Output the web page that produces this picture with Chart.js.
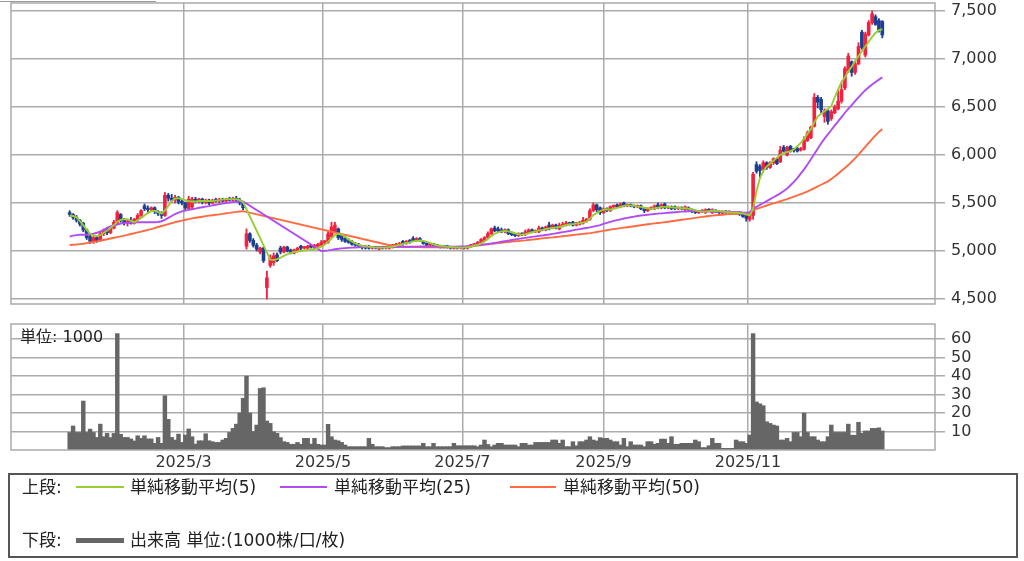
<!DOCTYPE html>
<html><head><meta charset="utf-8">
<script src="https://cdn.jsdelivr.net/npm/chart.js@4/dist/chart.umd.min.js"></script>
<style>
html,body{margin:0;padding:0;background:#fff;}
body{width:1024px;height:561px;overflow:hidden;position:relative;font-family:"DejaVu Sans","Noto Sans CJK JP",sans-serif;color:#222;}
canvas{position:absolute;left:0;}
#pc{top:0;}
#vc{top:310px;}
.t{position:absolute;font-size:16px;line-height:20px;white-space:nowrap;}
.lg{font-size:17px;}
.ln{position:absolute;}
#legend{position:absolute;left:8px;top:473px;width:1006px;height:81px;border:2px solid #555;}
#tab{position:absolute;left:0;top:1px;width:156px;height:0;border-top:1px solid #999;}
</style></head>
<body>
<div id="tab"></div>
<canvas id="pc" width="1024" height="310"></canvas>
<canvas id="vc" width="1024" height="165"></canvas>
<div class="t" style="left:20px;top:327px;">単位: 1000</div>
<div id="legend"></div>
<div class="t lg" style="left:22px;top:477px;">上段:</div>
<div class="ln" style="left:76px;top:486px;width:48px;height:2px;background:#9acd32;"></div>
<div class="t lg" style="left:130px;top:477px;">単純移動平均(5)</div>
<div class="ln" style="left:280px;top:486px;width:47px;height:2px;background:#b04cf5;"></div>
<div class="t lg" style="left:334px;top:477px;">単純移動平均(25)</div>
<div class="ln" style="left:510px;top:486px;width:46px;height:2px;background:#ff6a40;"></div>
<div class="t lg" style="left:563px;top:477px;">単純移動平均(50)</div>
<div class="t lg" style="left:22px;top:530px;">下段:</div>
<div class="ln" style="left:76px;top:538px;width:48px;height:5px;background:#666;"></div>
<div class="t lg" style="left:130px;top:530px;">出来高 単位:(1000株/口/枚)</div>
<script>
// ---- data (index = trading day, 0 = first session shown) ----
const monthTickPos = [33.5, 74.5, 115.5, 157, 199.5];
const monthLabels = ['2025/3','2025/5','2025/7','2025/9','2025/11'];
const priceTicks = [4500,5000,5500,6000,6500,7000,7500];
const volumeTicks = [10,20,30,40,50,60];

const opens = [
5400,5380,5350,5320,5290,5220,5150,5100,5140,5110,
5180,5220,5190,5240,5290,5380,5320,5290,5310,5290,
5330,5370,5470,5440,5430,5450,5410,5390,5370,5580,
5550,5530,5560,5510,5500,5440,5460,5540,5520,5540,
5510,5530,5500,5530,5520,5540,5520,5540,5530,5550,
5530,5500,5050,5180,5110,5060,4990,5030,4620,4850,
4880,4960,5030,4990,5040,5010,4980,5000,5050,5030,
5030,5060,5030,5050,5060,5090,5090,5150,5200,5230,
5160,5130,5110,5100,5070,5060,5050,5040,5050,5030,
5040,5020,5040,5030,5030,5050,5050,5060,5100,5080,
5110,5130,5110,5130,5100,5080,5060,5070,5060,5050,
5040,5050,5040,5030,5040,5030,5040,5030,5050,5060,
5070,5090,5110,5140,5180,5240,5230,5220,5200,5220,
5190,5170,5160,5180,5170,5190,5220,5200,5200,5240,
5220,5270,5240,5270,5230,5260,5270,5290,5300,5270,
5280,5290,5310,5330,5420,5480,5450,5400,5440,5420,
5460,5480,5460,5500,5470,5480,5470,5460,5470,5440,
5420,5440,5440,5480,5450,5490,5450,5460,5460,5440,
5450,5430,5450,5430,5420,5400,5410,5400,5430,5400,
5420,5410,5390,5410,5400,5400,5390,5400,5390,5380,
5330,5370,5900,5880,5850,5920,5870,5920,5960,5930,
6080,6000,6090,6060,6070,6050,6060,6150,6180,6300,
6600,6580,6400,6460,6380,6440,6480,6560,6700,6880,
6970,6860,6950,7280,7040,7250,7380,7440,7400,7390];

const highs = [
5420,5390,5370,5330,5300,5230,5170,5160,5150,5200,
5230,5240,5260,5320,5420,5390,5340,5330,5350,5340,
5390,5430,5490,5470,5460,5460,5420,5410,5610,5600,
5590,5580,5570,5540,5510,5570,5560,5560,5550,5550,
5540,5540,5540,5550,5550,5550,5550,5560,5560,5570,
5550,5510,5230,5190,5130,5080,5040,5040,4790,4960,
4980,4980,5050,5050,5050,5020,5020,5040,5060,5050,
5060,5070,5070,5080,5110,5110,5200,5300,5300,5240,
5170,5140,5130,5110,5090,5080,5060,5060,5060,5050,
5050,5050,5050,5050,5060,5070,5080,5090,5110,5110,
5120,5150,5140,5140,5110,5090,5080,5080,5070,5060,
5060,5060,5050,5050,5050,5050,5050,5060,5070,5080,
5100,5130,5150,5200,5240,5260,5250,5240,5230,5230,
5200,5180,5190,5190,5220,5230,5230,5220,5260,5250,
5260,5300,5280,5280,5290,5300,5310,5300,5310,5300,
5310,5350,5340,5440,5500,5490,5460,5450,5450,5470,
5480,5490,5500,5510,5490,5490,5480,5480,5480,5450,
5450,5460,5480,5500,5490,5500,5470,5470,5470,5460,
5460,5470,5460,5440,5430,5420,5430,5440,5440,5440,
5430,5420,5420,5420,5420,5410,5410,5410,5400,5400,
5400,5820,5930,5900,5940,5930,5930,5970,5970,6090,
6100,6090,6100,6070,6080,6080,6190,6250,6300,6640,
6620,6600,6480,6470,6470,6520,6680,6750,6920,7060,
6980,6970,7170,7300,7280,7400,7500,7460,7420,7400];

const lows = [
5360,5330,5300,5260,5200,5120,5080,5080,5090,5100,
5160,5170,5180,5230,5280,5300,5270,5260,5280,5280,
5320,5360,5420,5400,5410,5390,5370,5340,5360,5520,
5510,5500,5490,5480,5430,5440,5440,5500,5500,5490,
5490,5480,5490,5510,5500,5510,5510,5520,5520,5520,
5480,5430,5020,5090,5040,5000,4970,4880,4500,4830,
4850,4890,4970,4980,4990,4970,4970,4990,5010,5020,
5010,5030,5020,5040,5050,5070,5080,5140,5190,5120,
5100,5090,5080,5060,5050,5040,5020,5020,5020,5020,
5020,5010,5020,5020,5020,5030,5040,5050,5060,5070,
5080,5100,5100,5100,5070,5050,5050,5050,5040,5030,
5030,5030,5020,5020,5020,5020,5020,5020,5040,5050,
5060,5080,5100,5130,5170,5200,5200,5190,5190,5170,
5160,5150,5150,5160,5160,5180,5190,5190,5190,5210,
5210,5220,5230,5230,5220,5250,5260,5270,5260,5260,
5270,5280,5300,5320,5410,5410,5380,5390,5410,5410,
5450,5450,5450,5460,5460,5460,5450,5450,5430,5400,
5410,5430,5430,5440,5440,5440,5440,5430,5430,5430,
5430,5420,5420,5400,5390,5390,5400,5390,5410,5390,
5400,5390,5380,5390,5390,5380,5380,5370,5350,5310,
5310,5330,5810,5760,5840,5850,5860,5900,5900,5920,
6030,5990,6030,6030,6030,6040,6050,6140,6170,6290,
6490,6440,6340,6320,6360,6430,6470,6540,6680,6860,
6820,6840,6940,7100,7020,7240,7360,7350,7280,7220];

const closes = [
5380,5350,5320,5280,5220,5140,5100,5140,5110,5180,
5210,5190,5240,5300,5400,5320,5290,5310,5290,5330,
5370,5420,5440,5430,5450,5410,5390,5370,5580,5550,
5530,5560,5510,5500,5450,5540,5540,5520,5540,5510,
5530,5500,5530,5520,5540,5520,5540,5530,5550,5530,
5500,5450,5180,5110,5060,5020,5030,4900,4720,4930,
4950,4900,4990,5040,5000,4980,5010,5030,5030,5040,
5050,5040,5060,5070,5090,5100,5180,5250,5270,5140,
5120,5100,5090,5070,5060,5050,5040,5030,5030,5040,
5030,5040,5030,5040,5050,5060,5070,5080,5080,5100,
5090,5110,5130,5110,5080,5060,5070,5060,5050,5040,
5050,5040,5030,5040,5030,5040,5030,5050,5060,5070,
5090,5120,5140,5180,5230,5210,5210,5200,5220,5180,
5170,5160,5180,5170,5200,5220,5200,5210,5240,5220,
5250,5230,5270,5240,5270,5280,5290,5280,5270,5290,
5300,5320,5330,5420,5480,5430,5400,5440,5420,5460,
5470,5460,5490,5470,5480,5470,5460,5470,5440,5420,
5440,5450,5470,5450,5480,5450,5460,5440,5440,5450,
5440,5460,5430,5410,5400,5410,5420,5430,5420,5430,
5410,5400,5410,5400,5410,5390,5400,5380,5360,5340,
5370,5800,5830,5840,5920,5870,5920,5960,5910,6050,
6040,6080,6040,6050,6040,6060,6160,6230,6290,6600,
6550,6470,6460,6350,6450,6500,6560,6680,6900,7030,
6860,6950,7130,7120,7260,7380,7470,7360,7300,7250];

const volumes = [
9.5,13,9.5,9.5,26.5,9.5,11.3,9.5,6.8,14,
7.2,9,6.7,9,63,8.5,6.8,6.8,6,4.9,
7.7,6.3,7.7,6,6,3.6,6.8,3.6,29.4,16.6,
6.8,5.4,8.6,4.1,8.1,11.4,7.2,3.2,5,5,
8.8,5,4.5,4.1,4.1,5.4,6.3,9.5,11.7,14,
20,28,40,20,10,13.5,33.3,33.7,15.7,14.4,
9.9,9,6.7,4.5,4.1,3.1,3.1,4.1,3.1,6.3,
6.3,3.2,6.3,3.1,2.7,2.7,13.9,7.2,5.4,5,
4.1,2.7,1.8,1.8,1.8,1.8,1.8,1.8,6.3,3.1,
1.8,1.8,1.8,1.3,1.3,1.8,1.8,1.8,2.2,2.2,
2.2,2.2,2.2,2.2,3.6,1.8,1.8,3.6,1.8,1.8,
1.8,1.8,1.8,3.6,2.3,2.3,2.3,2.3,2.3,2.3,
1.8,2.7,5.4,3,1.8,2.7,3.6,3.6,2.7,2.7,
2.7,2.7,1.8,3.6,3.6,2.7,2.7,4.1,4.1,4.1,
4.1,4.1,5.4,5.4,3.6,5.4,1.8,1.8,4.5,2.3,
4.5,4.5,5.4,7.2,5.4,4.9,6.7,6.3,6.3,5.4,
4.5,4.5,2.7,6.3,1.8,4.5,2.7,2.7,2.7,1.8,
4.5,4.5,3.1,3.6,5.9,5.9,3.6,7.2,3.1,3.1,
3.6,3.6,3.6,3.6,5.4,4.5,1.3,1.3,2.3,6.3,
3.6,3.6,0.9,0.9,0.9,0.9,5.4,4.5,4.5,3.6,
8.1,63,26,25,24,15.3,14.4,13.5,13,5.4,
5.4,6.3,4.5,9.5,9.5,7.2,20,9.5,7.2,7.2,
5.4,4.5,4.5,7.2,13.5,9.5,9.5,9.5,9.5,14,
8,8,15,9,10.3,10.3,11.7,11.7,12,10.3];

const ma5 = [
5370,5365,5350,5310,5270,5220,5180,5160,5155,5165,
5190,5210,5240,5270,5305,5325,5330,5330,5315,5300,
5320,5345,5370,5395,5415,5420,5405,5390,5420,5470,
5520,5545,5550,5540,5530,5520,5515,5515,5520,5520,
5520,5520,5520,5525,5530,5535,5540,5540,5540,5540,
5530,5510,null,null,null,null,null,null,null,4910,
4905,4915,4930,4950,4965,4980,4990,4995,5000,5005,
5010,5015,5020,5030,5045,5065,5095,5130,5165,5180,
5170,5150,5120,5100,5080,5065,5055,5050,5045,5040,
5035,5035,5035,5035,5040,5045,5055,5065,5075,5085,
5090,5100,5105,5110,5105,5095,5085,5070,5060,5055,
5050,5045,5040,5040,5035,5035,5035,5040,5045,5055,
5065,5080,5100,5125,5155,5180,5195,5205,5210,5205,
5195,5185,5175,5170,5175,5185,5195,5205,5215,5220,
5230,5235,5240,5245,5250,5260,5270,5280,5280,5285,
5290,5295,5305,5335,5375,5395,5415,5430,5435,5430,
5440,5450,5460,5470,5475,5475,5470,5465,5460,5450,
5445,5440,5445,5450,5460,5460,5460,5455,5450,5450,
5445,5445,5440,5435,5425,5415,5410,5410,5415,5420,
5420,5415,5410,5405,5405,5400,5400,5395,5390,5380,
5370,5440,5620,5760,5830,5880,5910,5940,5970,6000,
6020,6030,6040,6060,6090,6125,6170,6220,6270,6340,
6400,6430,6455,6480,6510,6600,6680,6760,6810,6870,
6920,6980,7030,7080,7130,7180,7230,7270,7300,7310];

const ma25 = [
5150,5160,5165,5170,5170,5172,5175,5180,5190,5205,
5220,5240,5255,5265,5275,5285,5290,5295,5297,5298,
5300,5300,5300,5300,5300,5300,5302,5310,5325,5345,
5365,5385,5400,5412,5420,5428,5435,5442,5450,5456,
5462,5468,5475,5482,5488,5494,5500,5505,5510,5513,
5515,5515,null,null,null,null,null,null,null,null,
null,null,null,null,null,null,null,null,null,null,
null,null,null,null,5000,5003,5007,5012,5018,5023,
5027,5030,5033,5035,5037,5038,5040,5040,5040,5040,
5040,5040,5040,5040,5040,5040,5042,5043,5044,5045,
5045,5046,5046,5047,5047,5047,5047,5046,5046,5045,
5045,5045,5045,5045,5046,5047,5048,5050,5053,5057,
5061,5065,5069,5073,5078,5084,5090,5096,5102,5108,
5114,5120,5126,5132,5137,5142,5147,5152,5157,5162,
5167,5172,5178,5184,5190,5196,5202,5208,5215,5222,
5228,5234,5240,5246,5254,5262,5270,5282,5293,5303,
5313,5322,5330,5338,5345,5352,5358,5364,5370,5374,
5378,5382,5386,5389,5392,5395,5398,5401,5404,5407,
5410,5412,5414,5415,5415,5415,5414,5413,5412,5411,
5410,5410,5409,5408,5407,5406,5405,5403,5401,5400,
5405,5440,5460,5480,5500,5520,5540,5560,5580,5600,
5625,5650,5685,5720,5760,5805,5850,5900,5955,6010,
6065,6120,6170,6215,6260,6305,6350,6395,6440,6480,
6520,6560,6600,6640,6675,6705,6735,6760,6785,6810];

const ma50 = [
5062,5065,5068,5072,5076,5082,5088,5094,5100,5108,
5115,5122,5130,5138,5145,5152,5160,5168,5177,5185,
5194,5202,5211,5220,5228,5239,5250,5260,5270,5280,
5290,5299,5308,5316,5325,5332,5340,5346,5352,5357,
5363,5368,5373,5378,5382,5387,5393,5397,5402,5407,
5412,5415,null,null,null,null,null,null,null,null,
null,null,null,null,null,null,null,null,null,null,
null,null,null,null,null,null,null,null,null,null,
null,null,null,null,null,null,null,null,null,null,
null,null,null,null,null,null,5045,5044,5043,5042,
5041,5040,5040,5040,5039,5039,5039,5038,5038,5038,
5038,5038,5038,5038,5039,5039,5040,5043,5047,5052,
5057,5062,5066,5070,5074,5078,5082,5086,5090,5094,
5098,5101,5104,5108,5111,5115,5119,5123,5127,5131,
5135,5139,5142,5146,5150,5154,5158,5162,5166,5170,
5174,5178,5182,5186,5192,5198,5204,5210,5216,5222,
5228,5233,5238,5243,5248,5253,5258,5263,5268,5273,
5278,5283,5288,5292,5296,5300,5305,5310,5315,5320,
5325,5330,5335,5340,5345,5350,5355,5360,5365,5369,
5372,5375,5378,5381,5384,5386,5388,5390,5392,5395,
5400,5425,5438,5450,5462,5474,5485,5496,5507,5518,
5529,5540,5553,5566,5580,5593,5606,5620,5637,5655,
5672,5690,5708,5725,5750,5775,5805,5835,5865,5895,
5930,5965,6005,6045,6085,6125,6165,6205,6240,6270];

// ---- styling ----
const GRID = '#ababab';
const TXT = '#333';
const RED = '#f5203e';
const BLUE = '#1c3f92';
const FONT = {family:'DejaVu Sans', size:16};
const X_MIN = -17.26, X_MAX = 254.5;

const idx = closes.map((_, i) => i);
const candleColors = idx.map(i => closes[i] >= opens[i] ? RED : BLUE);

const frame = {
  id: 'frame',
  afterDraw(c) {
    const a = c.chartArea, ctx = c.ctx;
    ctx.save();
    ctx.strokeStyle = GRID; ctx.lineWidth = 1.5;
    ctx.strokeRect(a.left, a.top, a.right - a.left, a.bottom - a.top);
    ctx.restore();
  }
};

function xScale(showLabels) {
  return {
    type: 'linear', min: X_MIN, max: X_MAX, offset: false,
    afterBuildTicks(s) { s.ticks = monthTickPos.map(v => ({value: v})); },
    ticks: {display: showLabels, autoSkip: false, maxRotation: 0, minRotation: 0,
      callback: (v, i) => monthLabels[i], font: FONT, color: TXT, padding: 3},
    grid: {color: GRID, lineWidth: 1.5, drawTicks: false, offset: false},
    border: {display: false},
    afterFit(s) { s.height = showLabels ? 25 : 0; s.paddingLeft = 0; s.paddingRight = 0; }
  };
}
function yScale(min, max, tickVals, fmt) {
  return {
    type: 'linear', position: 'right', min, max,
    afterBuildTicks(s) { s.ticks = tickVals.map(v => ({value: v})); },
    ticks: {callback: fmt, font: FONT, color: TXT, padding: 6, autoSkip: false},
    grid: {color: GRID, lineWidth: 1.5, tickLength: 10, drawTicks: true},
    border: {display: false},
    afterFit(s) { s.width = 89; s.paddingTop = 0; s.paddingBottom = 0; }
  };
}
function maLine(arr, color) {
  return {type: 'line', data: idx.map(i => ({x: i, y: arr[i]})), borderColor: color,
    borderWidth: 1.9, pointRadius: 0, spanGaps: true, tension: 0, order: 0};
}

const common = {
  responsive: false, animation: false, devicePixelRatio: 1,
  plugins: {legend: {display: false}, tooltip: {enabled: false}},
  events: []
};

new Chart(document.getElementById('pc'), {
  type: 'bar',
  data: {datasets: [
    maLine(ma5, '#9acd32'),
    maLine(ma25, '#b04cf5'),
    maLine(ma50, '#ff6a40'),
    {type: 'bar', data: idx.map(i => ({x: i, y: [opens[i], closes[i]]})), backgroundColor: candleColors,
      barThickness: 3, grouped: false, minBarLength: 1.5, order: 2},
    {type: 'bar', data: idx.map(i => ({x: i, y: [lows[i], highs[i]]})), backgroundColor: candleColors,
      barThickness: 1.2, grouped: false, order: 3}
  ]},
  options: Object.assign({}, common, {
    layout: {padding: {left: 11, top: 3, right: 0, bottom: 6}},
    scales: {
      x: xScale(false),
      y: yScale(4448, 7583, priceTicks, v => v.toLocaleString('en-US'))
    }
  }),
  plugins: [frame]
});

new Chart(document.getElementById('vc'), {
  type: 'bar',
  data: {datasets: [
    {data: idx.map(i => ({x: i, y: volumes[i]})), backgroundColor: '#666666',
      barThickness: 3.8, grouped: false}
  ]},
  options: Object.assign({}, common, {
    layout: {padding: {left: 11, top: 14, right: 0, bottom: 0}},
    scales: {
      x: xScale(true),
      y: yScale(0, 68.2, volumeTicks, v => String(v))
    }
  }),
  plugins: [frame]
});
</script>
</body></html>
